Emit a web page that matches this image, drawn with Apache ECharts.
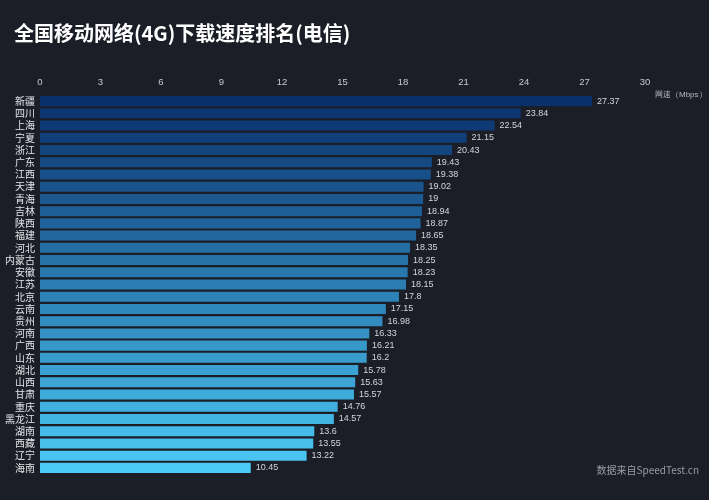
<!DOCTYPE html>
<html><head><meta charset="utf-8">
<script src="https://cdn.jsdelivr.net/npm/echarts@6/dist/echarts.min.js"></script>
<style>html,body{margin:0;padding:0;background:#1b1d27;}#c{width:709px;height:500px;}</style>
</head><body><div id="c"></div>
<script>
var provinces = ['新疆','四川','上海','宁夏','浙江','广东','江西','天津','青海','吉林','陕西','福建','河北','内蒙古','安徽','江苏','北京','云南','贵州','河南','广西','山东','湖北','山西','甘肃','重庆','黑龙江','湖南','西藏','辽宁','海南'];
var speeds = [27.37,23.84,22.54,21.15,20.43,19.43,19.38,19.02,19,18.94,18.87,18.65,18.35,18.25,18.23,18.15,17.8,17.15,16.98,16.33,16.21,16.2,15.78,15.63,15.57,14.76,14.57,13.6,13.55,13.22,10.45];
var xTicks = [0,3,6,9,12,15,18,21,24,27,30];

var c0 = [10,48,108], c1 = [76,202,247];
function colorAt(i){
  var t = i/(provinces.length-1);
  var r = Math.round(c0[0]+(c1[0]-c0[0])*t), g = Math.round(c0[1]+(c1[1]-c0[1])*t), b = Math.round(c0[2]+(c1[2]-c0[2])*t);
  return 'rgb('+r+','+g+','+b+')';
}
var chart = echarts.init(document.getElementById('c'));
chart.setOption({
  backgroundColor:'#1b1d27',
  animation:false,
  title:{text:'全国移动网络(4G)下载速度排名(电信)',left:9,top:18,textStyle:{color:'#fff',fontSize:20,fontWeight:'bold',fontFamily:'Noto Sans CJK SC'}},
  graphic:[{type:'text',right:10,top:465,style:{text:'数据来自SpeedTest.cn',fill:'#9a9ca3',font:'10px "Noto Sans CJK SC"'}}],
  grid:{left:40,right:64,top:95,bottom:26,containLabel:false,outerBoundsMode:'none'},
  xAxis:{type:'value',position:'top',min:xTicks[0],max:xTicks[xTicks.length-1],interval:3,
    name:'网速（Mbps）',nameLocation:'end',nameGap:10,nameTextStyle:{color:'#b8bac0',fontSize:8,verticalAlign:'middle'},
    axisLine:{show:false},axisTick:{show:false},splitLine:{show:false},
    axisLabel:{color:'#c8cad0',fontSize:9.5,margin:8}},
  yAxis:{type:'category',inverse:true,data:provinces,
    axisLine:{show:false},axisTick:{show:false},
    axisLabel:{color:'#e2e4e8',fontSize:10,margin:5,interval:0,fontFamily:'Noto Sans CJK SC'}},
  series:[{type:'bar',data:speeds,barCategoryGap:'18%',
    itemStyle:{color:function(p){return colorAt(p.dataIndex);}},
    label:{show:true,position:'right',color:'#d4d6da',fontSize:9,distance:5}}]
});
</script></body></html>
